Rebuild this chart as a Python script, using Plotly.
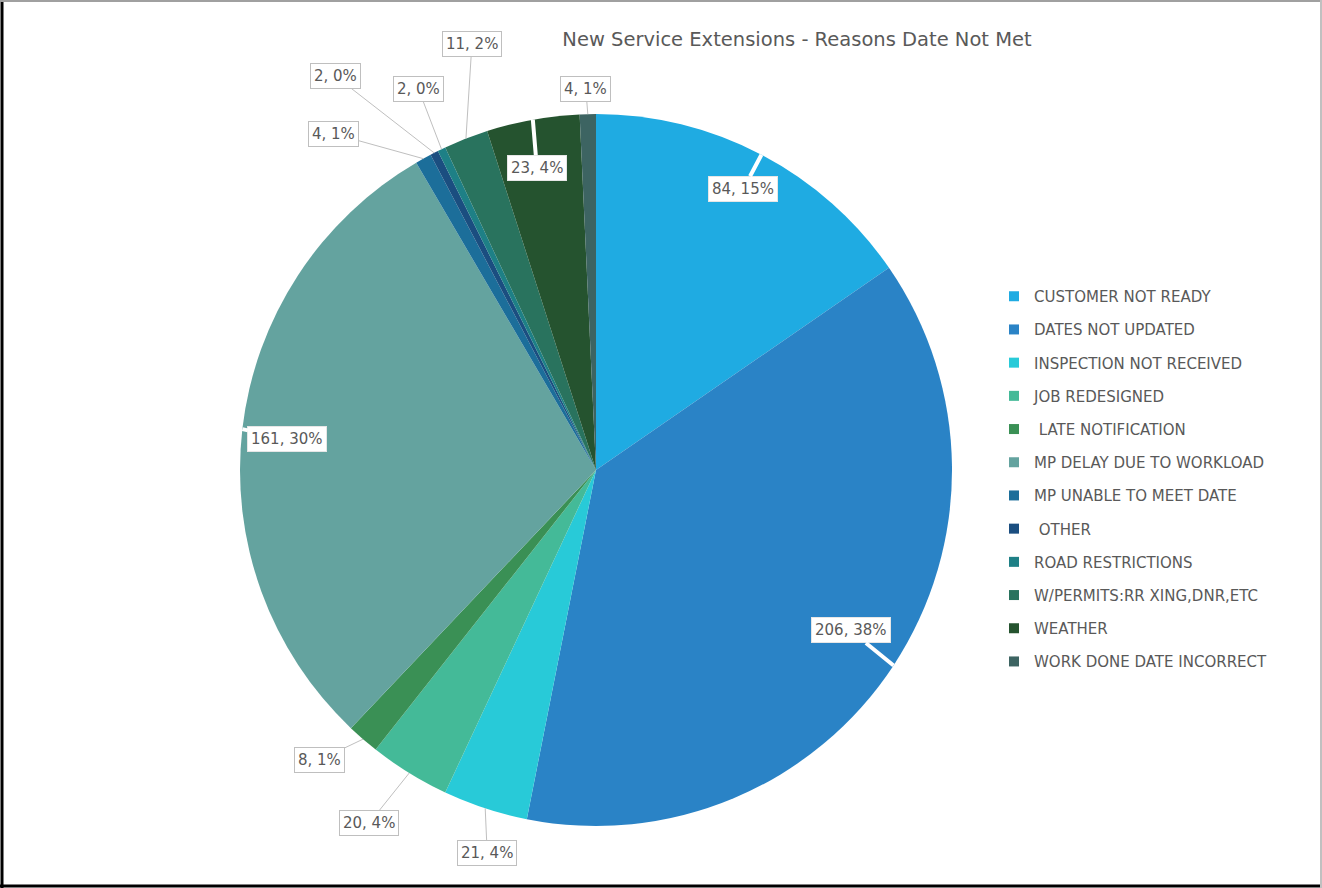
import math
import plotly.graph_objects as go

categories = [
    "CUSTOMER NOT READY", "DATES NOT UPDATED", "INSPECTION NOT RECEIVED",
    "JOB REDESIGNED", " LATE NOTIFICATION", "MP DELAY DUE TO WORKLOAD",
    "MP UNABLE TO MEET DATE", " OTHER", "ROAD RESTRICTIONS",
    "W/PERMITS:RR XING,DNR,ETC", "WEATHER", "WORK DONE DATE INCORRECT",
]
values = [84, 206, 21, 20, 8, 161, 4, 2, 2, 11, 23, 4]
percent_shown = [15, 38, 4, 4, 1, 30, 1, 0, 0, 2, 4, 1]
colors = [
    "#1FABE2", "#2A83C6", "#28CAD8", "#44BA98", "#3A9055", "#64A39F",
    "#1C6E9A", "#1B4E80", "#1E8086", "#29735E", "#25532F", "#3D6462",
]
# label offsets (pixels) from slice edge point to label box, and inside flag
label_ax = [-18, -43, 2, -40, -44, 45, -90, -99, -23, 6, 4, -2]
label_ay = [34, -35, 45, 50, 21, 10, -25, -77, -60, -95, 48, -25]
label_inside = [True, True, False, False, False, True, False, False, False, False, True, False]

W, H = 1322, 888
CX, CY, R = 596, 470, 356  # pixel center & radius of pie
TEXT = "#595959"
FONT = "DejaVu Sans"

fig = go.Figure()
fig.add_trace(go.Pie(
    labels=categories, values=values, sort=False, direction="clockwise",
    rotation=0, marker=dict(colors=colors, line=dict(width=0)),
    textinfo="none", showlegend=False, hole=0,
    domain=dict(x=[(CX - R) / W, (CX + R) / W], y=[1 - (CY + R) / H, 1 - (CY - R) / H]),
))

# legend proxies
for i, (c, col) in enumerate(zip(categories, colors)):
    fig.add_trace(go.Scatter(
        x=[None], y=[None], mode="markers", name=c, legendgroup=f"g{i}",
        marker=dict(symbol="square", size=10, color=col), showlegend=True,
    ))

total = sum(values)
cum = 0
annotations = []
for i, v in enumerate(values):
    mid = (cum + v / 2) / total
    cum += v
    th = 2 * math.pi * mid
    px = CX + R * math.sin(th)
    py = CY - R * math.cos(th)
    inside = label_inside[i]
    annotations.append(dict(
        x=px / W, y=1 - py / H, xref="paper", yref="paper",
        text=f"{v}, {percent_shown[i]}%", showarrow=True,
        ax=label_ax[i], ay=label_ay[i], arrowhead=0,
        arrowwidth=4 if inside else 1,
        arrowcolor="white" if inside else "#BFBFBF", standoff=0, startstandoff=0,
        bgcolor="white", bordercolor="#E6E6E6" if inside else "#BFBFBF",
        borderwidth=1, borderpad=3,
        font=dict(family=FONT, size=15, color=TEXT),
    ))

shapes = [
    dict(type="line", xref="paper", yref="paper", x0=2 / W, x1=2 / W, y0=0, y1=1,
         line=dict(color="black", width=3)),
    dict(type="line", xref="paper", yref="paper", x0=0, x1=1, y0=1 - 886 / H, y1=1 - 886 / H,
         line=dict(color="black", width=3)),
    dict(type="line", xref="paper", yref="paper", x0=0, x1=1, y0=1 - 1 / H, y1=1 - 1 / H,
         line=dict(color="#A0A0A0", width=2)),
    dict(type="line", xref="paper", yref="paper", x0=1 - 1 / W, x1=1 - 1 / W, y0=0, y1=1,
         line=dict(color="#C0C0C0", width=2)),
]

fig.update_layout(
    width=W, height=H, margin=dict(l=0, r=0, t=0, b=0),
    paper_bgcolor="white", plot_bgcolor="white",
    title=dict(text="New Service Extensions - Reasons Date Not Met", x=797 / W, y=1 - 39 / H,
               xanchor="center", yanchor="middle", xref="paper", yref="paper",
               font=dict(family=FONT, size=19.5, color=TEXT)),
    xaxis=dict(visible=False), yaxis=dict(visible=False),
    legend=dict(x=994 / W, y=1 - 280 / H, xanchor="left", yanchor="top",
                font=dict(family=FONT, size=15, color=TEXT), tracegroupgap=10.7,
                bgcolor="rgba(0,0,0,0)"),
    annotations=annotations, shapes=shapes,
)

fig.write_html("out.html", config={"displayModeBar": False},
               post_script="document.body.style.margin='0';")
